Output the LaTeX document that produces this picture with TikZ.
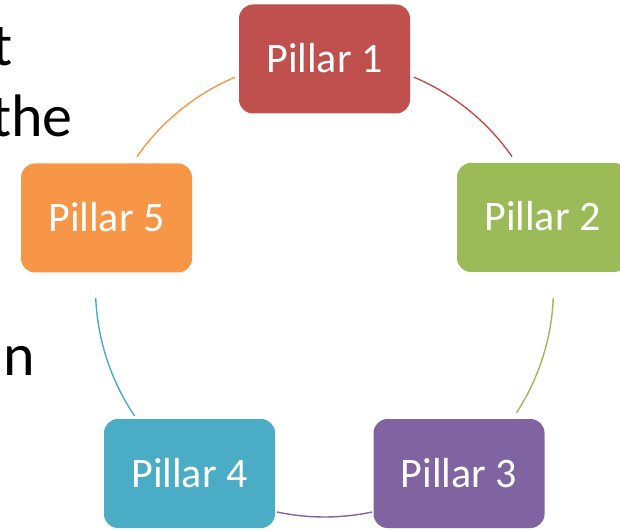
\documentclass[tikz,border=0pt]{standalone}
\usepackage{fontspec}
\setmainfont{Carlito}
\definecolor{cRed}{HTML}{C0504D}
\definecolor{cGreen}{HTML}{9BBB59}
\definecolor{cPurple}{HTML}{8064A2}
\definecolor{cAqua}{HTML}{4BACC6}
\definecolor{cOrange}{HTML}{F79646}
\begin{document}
\begin{tikzpicture}[x=1pt,y=1pt,
  pillar/.style={rectangle, rounded corners=14pt, minimum width=171pt, minimum height=109pt,
    inner sep=0pt, text=white, font=\fontsize{42}{50}\selectfont, text height=27pt, text depth=0pt},
  ring/.style={line width=1.4pt},
  sidetext/.style={anchor=base east, inner sep=0pt, font=\fontsize{60}{72}\selectfont, text=black}]
\clip (0,0) rectangle (620,530);
\fill[white] (0,0) rectangle (620,530);
\coordinate (c) at (324.5,242);
% left text fragments
\node[sidetext] (t1) at (13,464) {t};
\node[sidetext] (t2) at (73,393) {the};
\node[sidetext] (t3) at (35,154) {n};
% arcs
\draw[ring, cRed]    ([shift={(67:229)}]c) arc[start angle=67, end angle=35, radius=229];
\draw[ring, cGreen]  ([shift={(-2.5:229)}]c) arc[start angle=-2.5, end angle=-33, radius=229];
\draw[ring, cPurple] ([shift={(-78:229)}]c) arc[start angle=-78, end angle=-102, radius=229];
\draw[ring, cAqua]   ([shift={(-146:229)}]c) arc[start angle=-146, end angle=-177.5, radius=229];
\draw[ring, cOrange] ([shift={(145:229)}]c) arc[start angle=145, end angle=113, radius=229];
% pillars
\node[pillar, fill=cRed]    (p1) at (324.5,471) {Pillar 1};
\node[pillar, fill=cGreen]  (p2) at (542.5,312.5) {Pillar 2};
\node[pillar, fill=cPurple] (p3) at (459,56.5) {Pillar 3};
\node[pillar, fill=cAqua]   (p4) at (189.5,56.5) {Pillar 4};
\node[pillar, fill=cOrange] (p5) at (106.5,312) {Pillar 5};
\end{tikzpicture}
\end{document}
